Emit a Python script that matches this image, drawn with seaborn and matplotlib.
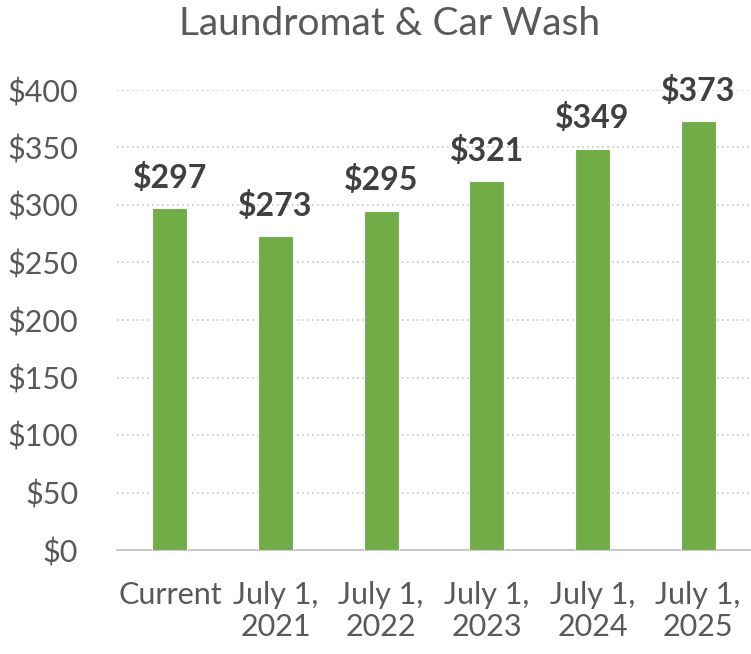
import matplotlib
matplotlib.use("Agg")
import pandas as pd
import matplotlib.pyplot as plt
import seaborn as sns
from matplotlib.ticker import FuncFormatter

# données
categories = ["Current", "July 1,\n2021", "July 1,\n2022", "July 1,\n2023", "July 1,\n2024", "July 1,\n2025"]
valeurs = [297, 273, 295, 321, 349, 373]
titre = "Laundromat & Car Wash"

sns.set_style("white")
plt.rcParams['font.family'] = ['Lato', 'DejaVu Sans']

gris = '#595959'
vert = '#70AD47'

df = pd.DataFrame({'periode': categories, 'montant': valeurs})

fig = plt.figure(figsize=(7.51, 6.54), dpi=100)
ax = fig.add_axes([117 / 751, 104 / 654, 634 / 751, 460 / 654])

sns.barplot(data=df, x='periode', y='montant', color=vert, saturation=1, width=0.33,
            edgecolor='white', linewidth=0.8, ax=ax, zorder=3)

ax.set_ylim(0, 400)
ax.set_yticks(range(0, 401, 50))
ax.yaxis.set_major_formatter(FuncFormatter(lambda x, pos: f'${x:,.0f}'))
ax.grid(axis='y', linestyle=(0, (1, 2)), color='#c8c8c8', linewidth=1.2, zorder=0)
ax.set_axisbelow(True)

for s in ['top', 'right', 'left']:
    ax.spines[s].set_visible(False)
ax.spines['bottom'].set_color('#bfbfbf')
ax.spines['bottom'].set_linewidth(1.2)

ax.tick_params(axis='y', length=0, pad=28, labelsize=22, labelcolor=gris)
ax.tick_params(axis='x', length=0, pad=22, labelsize=22, labelcolor=gris)
ax.set_xlabel('')
ax.set_ylabel('')

for i, v in enumerate(valeurs):
    ax.annotate(f'${v}', (i, v), xytext=(0, 11), textcoords='offset points',
                ha='center', va='bottom', fontsize=23, fontweight='bold', color='#404040')

fig.text(390 / 751, 1 - 24 / 654, titre, ha='center', va='center', fontsize=28, color=gris)

plt.savefig('out.png', dpi=100)
